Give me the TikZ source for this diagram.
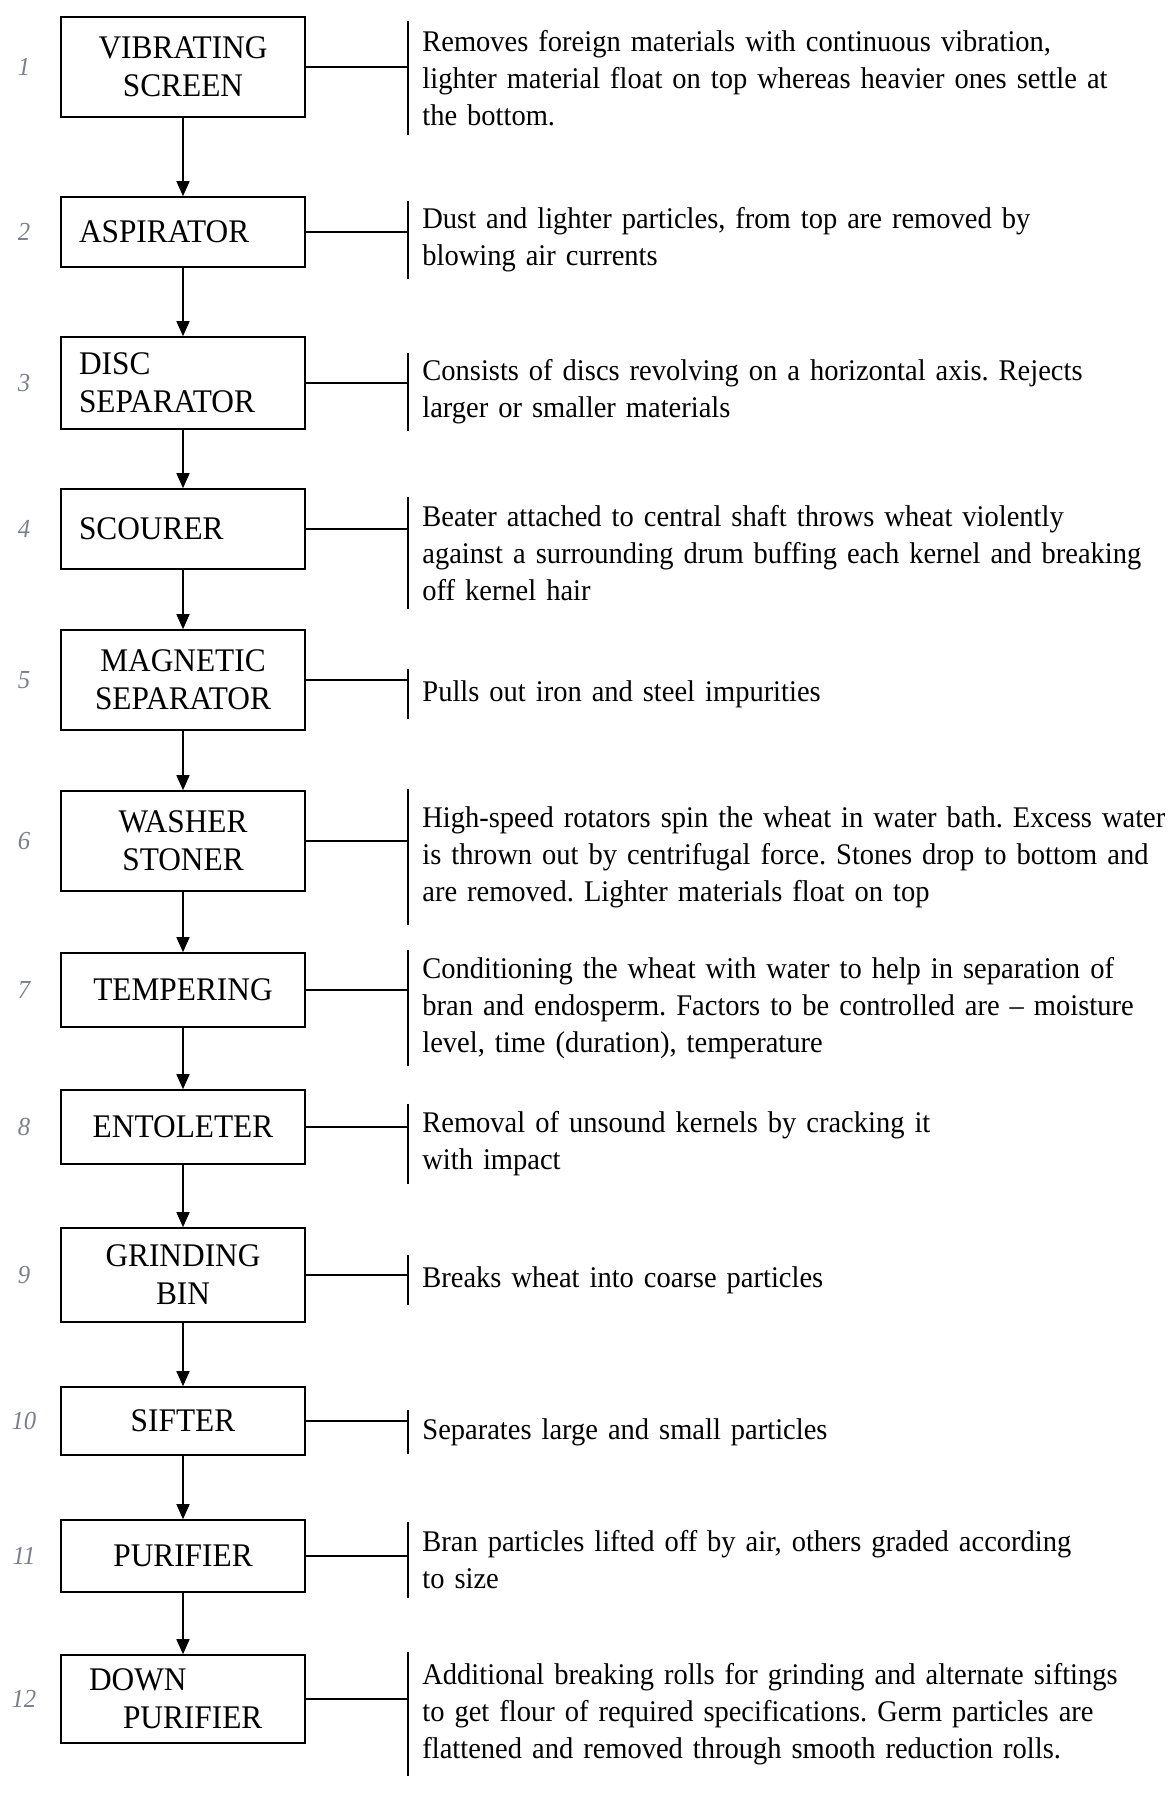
\documentclass[tikz,border=0pt]{standalone}
\usepackage{fontspec}
\setmainfont[FakeStretch=0.95, WordSpace=0.8]{Liberation Serif}
\usepackage{tikz}
\usetikzlibrary{arrows.meta, positioning}
\definecolor{penink}{HTML}{7A7F8C}
\frenchspacing

\begin{document}
\begin{tikzpicture}[x=0.5pt, y=-0.5pt, >={Triangle[length=7.5pt, width=6.5pt]},
    stagebox/.style={draw, line width=0.8pt, minimum width=122pt, inner xsep=9pt,
        text width=104pt, align=center, font=\fontsize{16.5}{19}\selectfont},
    notetext/.style={anchor=west, inner xsep=7pt, text width=390pt, align=left,
        font=\fontsize{15}{18.5}\selectfont},
    handnum/.style={font=\itshape\fontsize{13}{13}\selectfont, penink}]
    \useasboundingbox (0,0) rectangle (1169,1803);

    % Process stages
    \node[stagebox, minimum height=50pt] (s1) at (183, 67) {VIBRATING\\SCREEN};
    \node[stagebox, minimum height=35pt, align=left] (s2) at (183, 232) {ASPIRATOR};
    \node[stagebox, minimum height=46pt, align=left] (s3) at (183, 383) {DISC\\SEPARATOR};
    \node[stagebox, minimum height=40pt, align=left] (s4) at (183, 529) {SCOURER};
    \node[stagebox, minimum height=50pt] (s5) at (183, 680) {MAGNETIC\\SEPARATOR};
    \node[stagebox, minimum height=50pt] (s6) at (183, 841) {WASHER\\STONER};
    \node[stagebox, minimum height=37pt] (s7) at (183, 990) {TEMPERING};
    \node[stagebox, minimum height=37pt] (s8) at (183, 1127) {ENTOLETER};
    \node[stagebox, minimum height=47pt] (s9) at (183, 1275) {GRINDING\\BIN};
    \node[stagebox, minimum height=34pt] (s10) at (183, 1421) {SIFTER};
    \node[stagebox, minimum height=36pt] (s11) at (183, 1556) {PURIFIER};
    \node[stagebox, minimum height=44pt, align=left] (s12) at (183, 1699)
        {\hspace*{5pt}DOWN\\\hspace*{22pt}PURIFIER};

    % Descriptions
    \node[notetext, minimum height=57pt] (d1) at (408, 78)
        {Removes foreign materials with continuous vibration,\\
         lighter material float on top whereas heavier ones settle at\\
         the bottom.};
    \node[notetext, minimum height=35pt] (d2) at (408, 240)
        {Dust and lighter particles, from top are removed by\\
         blowing air currents};
    \node[notetext, minimum height=36pt] (d3) at (408, 392)
        {Consists of discs revolving on a horizontal axis. Rejects\\
         larger or smaller materials};
    \node[notetext, minimum height=56pt] (d4) at (408, 553)
        {Beater attached to central shaft throws wheat violently\\
         against a surrounding drum buffing each kernel and breaking\\
         off kernel hair};
    \node[notetext, minimum height=25pt] (d5) at (408, 694)
        {Pulls out iron and steel impurities};
    \node[notetext, minimum height=68pt] (d6) at (408, 857)
        {High-speed rotators spin the wheat in water bath. Excess water\\
         is thrown out by centrifugal force. Stones drop to bottom and\\
         are removed. Lighter materials float on top};
    \node[notetext, minimum height=50pt] (d7) at (408, 1008)
        {Conditioning the wheat with water to help in separation of\\
         bran and endosperm. Factors to be controlled are -- moisture\\
         level, time (duration), temperature};
    \node[notetext, minimum height=40pt] (d8) at (408, 1144)
        {Removal of unsound kernels by cracking it\\
         with impact};
    \node[notetext, minimum height=25pt] (d9) at (408, 1280)
        {Breaks wheat into coarse particles};
    \node[notetext, minimum height=22pt] (d10) at (408, 1432)
        {Separates large and small particles};
    \node[notetext, minimum height=38pt] (d11) at (408, 1560)
        {Bran particles lifted off by air, others graded according\\
         to size};
    \node[notetext, minimum height=62pt] (d12) at (408, 1714)
        {Additional breaking rolls for grinding and alternate siftings\\
         to get flour of required specifications. Germ particles are\\
         flattened and removed through smooth reduction rolls.};

    % Flow arrows
    \foreach \i [evaluate=\i as \j using int(\i+1)] in {1,...,11}
        \draw[line width=0.7pt, ->] (s\i) -- (s\j);

    % Links to the notes
    \foreach \i in {1,...,12} {
        \draw[line width=0.7pt] (s\i.east) -- (s\i.east -| d\i.west);
        \draw[line width=0.7pt] (d\i.north west) -- (d\i.south west);
    }

    % Hand-written step numbers
    \foreach \i in {1,...,12}
        \node[handnum] (n\i) at (24, 0 |- s\i) {\i};
\end{tikzpicture}
\end{document}
